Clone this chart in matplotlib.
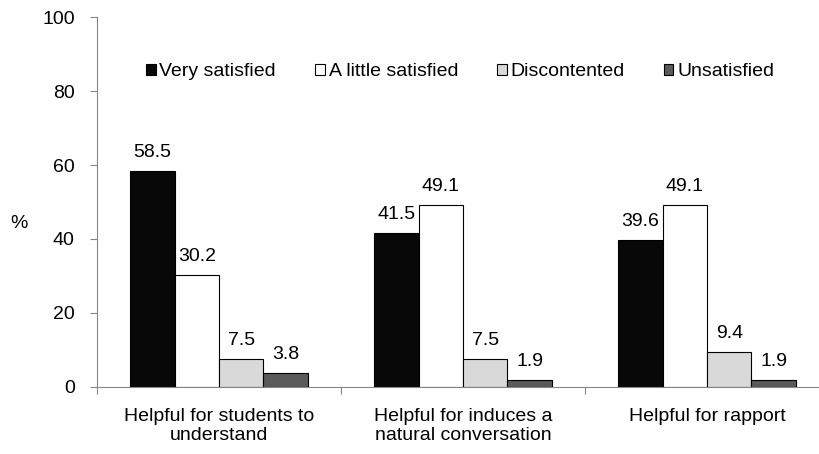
import numpy as np
import matplotlib.pyplot as plt

plt.rcParams['font.family'] = ['Liberation Sans', 'DejaVu Sans']

categories = ['Helpful for students to\nunderstand',
              'Helpful for induces a\nnatural conversation',
              'Helpful for rapport']
series = ['Very satisfied', 'A little satisfied', 'Discontented', 'Unsatisfied']
values = [
    [58.5, 41.5, 39.6],
    [30.2, 49.1, 49.1],
    [7.5, 7.5, 9.4],
    [3.8, 1.9, 1.9],
]
colors = ['#080808', '#ffffff', '#d9d9d9', '#5a5a5a']

fig = plt.figure(figsize=(8.2, 4.54), dpi=100)
# the category axis runs past the right edge, as in the original
ax = fig.add_axes([0.1183, 0.1482, 0.8927, 0.8137])

x = np.arange(len(categories))
w = 0.182
for i, (name, vals) in enumerate(zip(series, values)):
    pos = x + (i - 1.5) * w
    bars = ax.bar(pos, vals, w, color=colors[i], edgecolor='black',
                  linewidth=0.8, label=name)
    for b, v in zip(bars, vals):
        ax.text(b.get_x() + b.get_width() / 2, v + 3.8, f'{v}',
                ha='center', va='baseline', fontsize=14)

ax.set_xlim(-0.5, 2.5)
ax.set_ylim(0, 100)
ax.set_yticks([0, 20, 40, 60, 80, 100])
ax.set_xticks([-0.5, 0.5, 1.5, 2.5])
ax.set_xticklabels([])
ax.set_xticks(x, minor=True)
ax.set_xticklabels(categories, minor=True, fontsize=14)
ax.tick_params(axis='x', which='minor', length=0, pad=15)
ax.tick_params(axis='x', which='major', length=5, color='#868686')
ax.tick_params(axis='y', length=5, color='#868686', labelsize=14, pad=11)
for s in ['top', 'right']:
    ax.spines[s].set_visible(False)
for s in ['left', 'bottom']:
    ax.spines[s].set_color('#868686')

fig.text(0.023, 0.507, '%', fontsize=14, ha='center', va='center')

ax.legend(loc='center', bbox_to_anchor=(0.496, 0.852), ncol=4,
          frameon=False, fontsize=14, handlelength=0.5, handleheight=0.5,
          handletextpad=0.2, columnspacing=2.0, borderpad=0)

fig.savefig('out.png', dpi=100)
